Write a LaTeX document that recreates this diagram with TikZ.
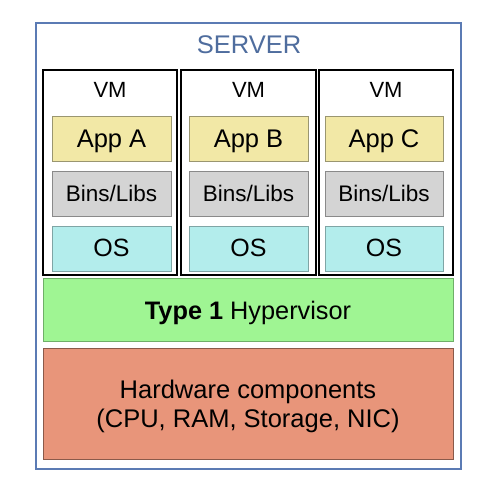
\documentclass[tikz,border=0pt]{standalone}
\usepackage{fontspec}
\setmainfont{Liberation Sans}
\definecolor{srvblue}{HTML}{5B7BB4}
\definecolor{srvtext}{HTML}{4F6D9E}
\definecolor{appfill}{HTML}{F2E8A6}
\definecolor{appdraw}{HTML}{9A9670}
\definecolor{binfill}{HTML}{D4D4D4}
\definecolor{bindraw}{HTML}{8A8A8A}
\definecolor{osfill}{HTML}{B3EDEC}
\definecolor{osdraw}{HTML}{7FA5A5}
\definecolor{hypfill}{HTML}{9FF593}
\definecolor{hypdraw}{HTML}{6FAF68}
\definecolor{hwfill}{HTML}{E8957A}
\definecolor{hwdraw}{HTML}{8A5A4A}
\begin{document}
\begin{tikzpicture}[x=1pt,y=-1pt,
  layer/.style={draw, line width=0.8pt, inner sep=0pt},
  vmbox/.style={draw=black, line width=1.8pt},
  fnt/.style={font=\fontsize{#1}{#1}\selectfont, anchor=base, inner sep=0pt}]
\useasboundingbox (0,0) rectangle (494,482);
\fill[white] (0,0) rectangle (494,482);
% server
\draw[srvblue, line width=1.4pt] (36,23) rectangle (461,469);
\node[text=srvtext, fnt=25.5] (srv) at (249,53) {SERVER};
% VMs
\foreach \n/\a/\b/\c/\d/\lab in {1/43/177/52/171/A, 2/181/316/189/308/B, 3/319/453/325/443/C}{
  \draw[vmbox] (\a,70) rectangle (\b,275);
  \node[fnt=22] (vm\n) at ({(\a+\b)/2},97.5) {VM};
  \draw[layer, draw=appdraw, fill=appfill] (\c,116) rectangle (\d,161);
  \node[fnt=25.5] (app\n) at ({(\c+\d)/2},147) {App \lab};
  \draw[layer, draw=bindraw, fill=binfill] (\c,171) rectangle (\d,216);
  \node[fnt=22.5] (bin\n) at ({(\c+\d)/2},201) {Bins/Libs};
  \draw[layer, draw=osdraw, fill=osfill] (\c,226) rectangle (\d,271);
  \node[fnt=25] (os\n) at ({(\c+\d)/2},256.5) {OS};
}
% hypervisor
\draw[layer, draw=hypdraw, fill=hypfill] (43,278) rectangle (453,341);
\node[fnt=25.3] (hyp) at (248,319) {\textbf{Type 1} Hypervisor};
% hardware
\draw[layer, draw=hwdraw, fill=hwfill] (43,348) rectangle (453,459);
\node[fnt=25.5] (hw1) at (248,398) {Hardware components};
\node[fnt=25.5] (hw2) at (248,427) {(CPU, RAM, Storage, NIC)};
\end{tikzpicture}
\end{document}
